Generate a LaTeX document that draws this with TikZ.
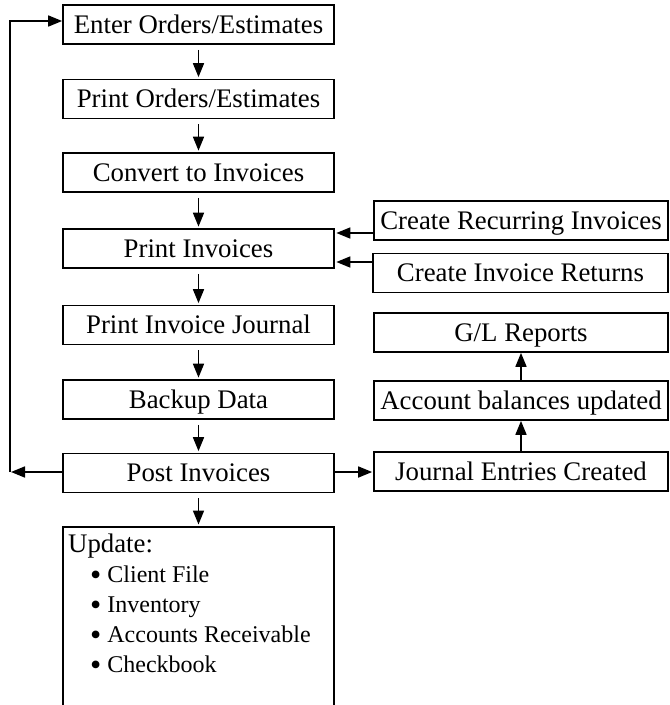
\documentclass[tikz,border=0pt]{standalone}
\usepackage{fontspec}
\setmainfont{Liberation Serif}
\usetikzlibrary{arrows.meta}
\newcommand\bulletitem[1]{\fontsize{24}{30}\selectfont\hspace*{22pt}\raisebox{-2.5pt}{\fontsize{32}{30}\selectfont\textbullet}\hspace{6pt}#1}
\begin{document}
\begin{tikzpicture}[x=1pt,y=-1pt,
  box/.style={draw, line width=1.7pt, rectangle, inner sep=0pt,
    text height=17.5pt, text depth=0pt, font=\fontsize{26.8}{32}\selectfont},
  lbox/.style={box, minimum width=271pt, minimum height=39pt},
  rbox/.style={box, minimum width=294pt, minimum height=39pt},
  arr/.style={line width=1.7pt, -{Triangle[length=14pt,width=11pt]}},
  down/.style={arr, shorten <=5pt, shorten >=1.5pt},
]
\useasboundingbox (0,0) rectangle (670,705);
\clip (0,0) rectangle (670,705);

% main column
\node[lbox] (enter)    at (198.5,24.5)  {Enter Orders/Estimates};
\node[lbox] (printord) at (198.5,99)    {Print Orders/Estimates};
\node[lbox] (convert)  at (198.5,172.5) {Convert to Invoices};
\node[lbox] (printinv) at (198.5,248.5) {Print Invoices};
\node[lbox] (journal)  at (198.5,325)   {Print Invoice Journal};
\node[lbox] (backup)   at (198.5,399.5) {Backup Data};
\node[lbox] (post)     at (198.5,473)   {Post Invoices};
\node[draw, line width=1.7pt, minimum width=271pt, minimum height=220pt,
      inner sep=0pt, anchor=north] (update) at (198.5,526) {};
\node[anchor=north west, align=left, inner sep=0pt,
      font=\fontsize{26.8}{30}\selectfont] (updtext) at (68,534)
  {Update:\\
   \bulletitem{Client File}\\
   \bulletitem{Inventory}\\
   \bulletitem{Accounts Receivable}\\
   \bulletitem{Checkbook}};

% side column
\node[rbox] (recur)   at (521,220.5) {Create Recurring Invoices};
\node[rbox, minimum width=295pt] (returns) at (520.5,273) {Create Invoice Returns};
\node[rbox] (glrep)   at (521,332.5) {G/L Reports};
\node[rbox] (acct)    at (521,400.5) {Account balances updated};
\node[rbox] (jec)     at (521,471.5) {Journal Entries Created};

% main flow
\draw[down] (enter) -- (printord);
\draw[down] (printord) -- (convert);
\draw[down] (convert) -- (printinv);
\draw[down] (printinv) -- (journal);
\draw[down] (journal) -- (backup);
\draw[down] (backup) -- (post);
\draw[down] (post) -- (update);

% inputs to printing invoices
\draw[arr, shorten >=1.5pt] (recur.west |- 0,233) -- (printinv.east |- 0,233);
\draw[arr, shorten >=1.5pt] (returns.west |- 0,262) -- (printinv.east |- 0,262);

% posting to the ledger
\draw[arr, shorten >=1pt] (post.east |- 0,472) -- (jec.west |- 0,472);
\draw[arr] (jec) -- (acct);
\draw[arr] (acct) -- (glrep);

% loop back to order entry
\coordinate (loopbot) at (11,472);
\coordinate (looptop) at (10,21);
\draw[arr] (post.west |- loopbot) -- (loopbot);
\draw[arr] (looptop |- loopbot) |- (enter.west |- looptop);
\end{tikzpicture}
\end{document}
